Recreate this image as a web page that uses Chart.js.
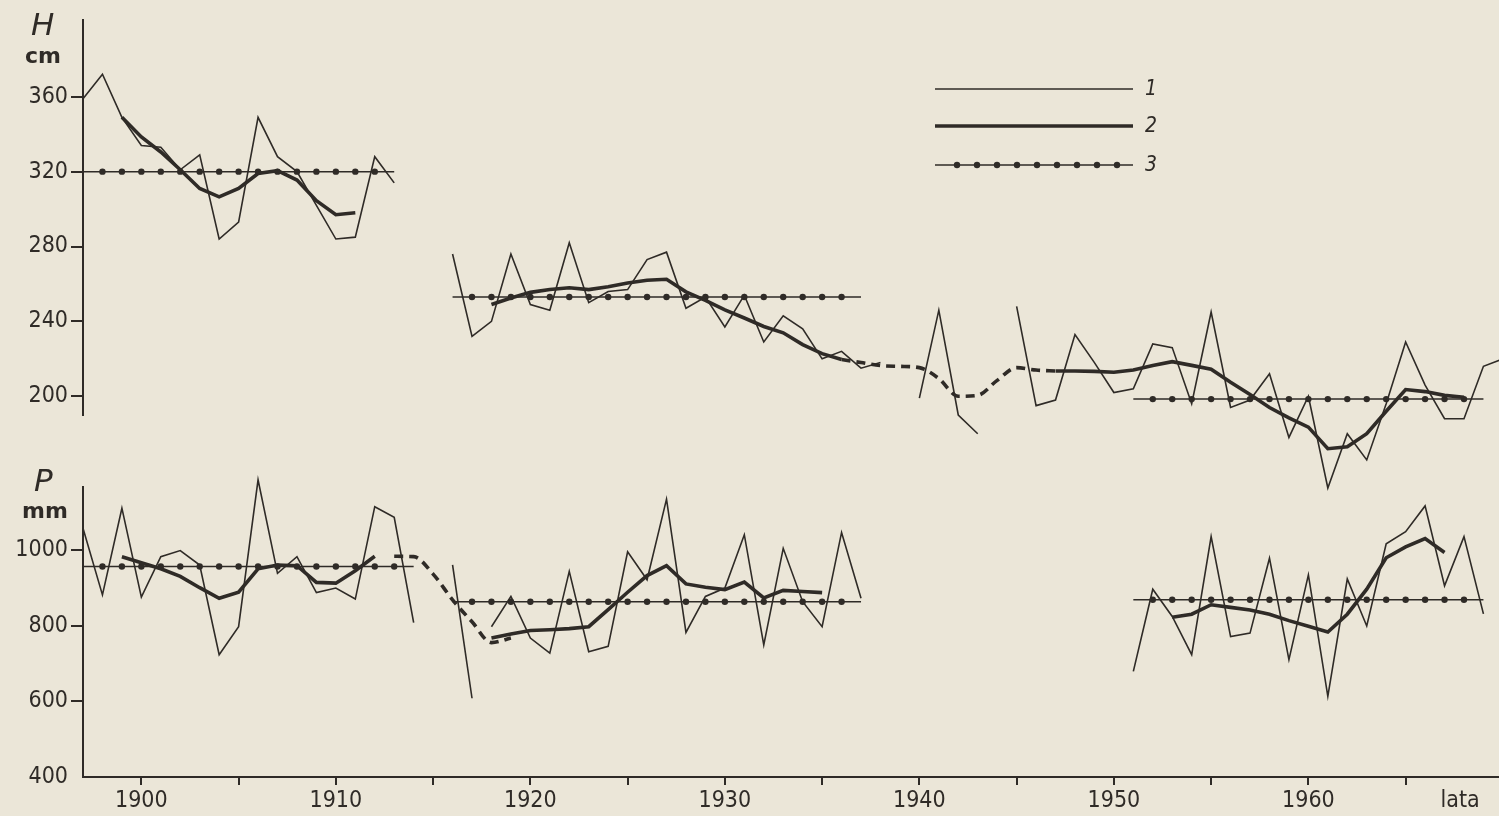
<!DOCTYPE html>
<html>
<head>
<meta charset="utf-8">
<script src="https://cdn.jsdelivr.net/npm/chart.js@4.4.1/dist/chart.umd.min.js"></script>
<style>
  html, body { margin: 0; padding: 0; background: #ebe6d8; }
  #wrap { width: 1499px; height: 816px; }
</style>
</head>
<body>
<div id="wrap"><canvas id="wykres"></canvas></div>
<script>
// lata 1897-1970
const years = [];
for (let r = 1897; r <= 1970; r++) years.push(r);

// H [cm] - stany wody
const hAnnual = [
  359, 372, 349,
  334, 333, 321, 329, 284, 293, 349, 328, 320, 302,
  284, 285, 328, 314, null, null, 276, 232, 240, 276,
  249, 246, 282, 250, 256, 257, 273, 277, 247, 253,
  237, 254, 229, 243, 236, 220, 224, 215, 218, null,
  199, 246, 190, 180, null, 248, 195, 198, 233, 218,
  202, 204, 228, 226, 196, 245, 194, 198, 212, 178,
  200, 151, 180, 166, 196, 229, 206, 188, 188, 216,
  220
];
const hSmooth = [
  null, null, 349,
  338.5, 330.5, 321, 311, 306.5, 311, 319, 320.5, 315.5, 304.5,
  297, 298, null, null, null, null, null, null, 249, 252.5,
  255.5, 257, 258, 257, 258.5, 260.5, 262, 262.5, 255.8, 251.2,
  246.2, 241.8, 237.3, 233.9, 227.6, 222.8, 219.6, null, null, null,
  null, null, null, null, null, null, null, 213.5, 213.5, 213.3,
  212.8, 214, 216.5, 218.5, 216.5, 214.5, 207.5, 201, 194, 188.5,
  183.5, 172, 173, 180, 192, 203.6, 202.5, 200.5, 199.5, null,
  null
];
// przerwa w obserwacjach (linia przerywana)
const hGap = [
  null, null, null,
  null, null, null, null, null, null, null, null, null, null,
  null, null, null, null, null, null, null, null, null, null,
  null, null, null, null, null, null, null, null, null, null,
  null, null, null, null, null, null, 219.6, 218, 216.4, 216,
  215.3, 209.5, 200, 200.5, 208.5, 215.3, 214, 213.5, null, null,
  null, null, null, null, null, null, null, null, null, null,
  null, null, null, null, null, null, null, null, null, null,
  null
];
const hMean = [
  320, 320, 320,
  320, 320, 320, 320, 320, 320, 320, 320, 320, 320,
  320, 320, 320, 320, null, null, 253, 253, 253, 253,
  253, 253, 253, 253, 253, 253, 253, 253, 253, 253,
  253, 253, 253, 253, 253, 253, 253, 253, null, null,
  null, null, null, null, null, null, null, null, null, null,
  null, 198.5, 198.5, 198.5, 198.5, 198.5, 198.5, 198.5, 198.5, 198.5,
  198.5, 198.5, 198.5, 198.5, 198.5, 198.5, 198.5, 198.5, 198.5, 198.5,
  null
];

// P [mm] - opady
const pAnnual = [
  1057, 881, 1110,
  875, 982, 998, 960, 723, 797, 1185, 938, 982, 887,
  899, 870, 1114, 1086, 808, null, null, null, 797, 877,
  767, 727, 943, 731, 745, 995, 921, 1134, 782, 877,
  899, 1040, 749, 1004, 863, 797, 1046, 872, null, null,
  null, null, null, null, null, null, null, null, null, null,
  null, 679, 896, 824, 723, 1035, 771, 780, 978, 710,
  934, 613, 923, 799, 1016, 1048, 1116, 905, 1035, 831,
  null
];
const pEdgeYears = [1916, 1917];
const pEdge = [960, 608];
const pSmooth = [
  null, null, 982,
  966, 950, 930, 900, 872, 888, 950, 960, 958, 914,
  912, 945, 983, null, null, null, null, null, 767, 778,
  787, 789, 792, 797, 842, 888, 932, 958, 910, 901,
  895, 915, 873, 893, 890, 887, null, null, null, null,
  null, null, null, null, null, null, null, null, null, null,
  null, null, null, 822, 830, 855, 848, 841, 830, 813,
  798, 783, 830, 896, 979, 1008, 1030, 993, null, null,
  null
];
const pGap = [
  null, null, null,
  null, null, null, null, null, null, null, null, null, null,
  null, null, null, 983, 982, 936, 868, 810, 755, 767,
  null, null, null, null, null, null, null, null, null, null,
  null, null, null, null, null, null, null, null, null, null,
  null, null, null, null, null, null, null, null, null, null,
  null, null, null, null, null, null, null, null, null, null,
  null, null, null, null, null, null, null, null, null, null,
  null
];
const pMean = [
  956, 956, 956,
  956, 956, 956, 956, 956, 956, 956, 956, 956, 956,
  956, 956, 956, 956, 956, null, 863, 863, 863, 863,
  863, 863, 863, 863, 863, 863, 863, 863, 863, 863,
  863, 863, 863, 863, 863, 863, 863, 863, null, null,
  null, null, null, null, null, null, null, null, null, null,
  null, 868, 868, 868, 868, 868, 868, 868, 868, 868,
  868, 868, 868, 868, 868, 868, 868, 868, 868, 868,
  null
];

const hTicks = [200, 240, 280, 320, 360];
const pTicks = [400, 600, 800, 1000];
const lataPos = 1967.8;
const xTicks = [1900, 1905, 1910, 1915, 1920, 1925, 1930, 1935, 1940, 1945, 1950, 1955, 1960, 1965, lataPos];

const ink = '#2f2b27';
const tickFont = { family: "'DejaVu Sans Condensed', 'Liberation Sans Narrow', sans-serif", size: 23 };

const pts = arr => years.map((r, i) => ({ x: r, y: arr[i] }));
// kropki tylko wewnatrz odcinka sredniej
const kropki = arr => c => {
  const i = c.dataIndex;
  return arr[i] != null && arr[i - 1] != null && arr[i + 1] != null ? 3.2 : 0;
};

const thin = (data, axis) => ({ data, yAxisID: axis, clip: false, borderColor: ink, borderWidth: 1.6, pointRadius: 0, tension: 0 });
const thick = (data, axis) => ({ data, yAxisID: axis, clip: false, borderColor: ink, borderWidth: 3.6, pointRadius: 0, tension: 0 });
const dashed = (data, axis) => ({ data, yAxisID: axis, clip: false, borderColor: ink, borderWidth: 3.6, borderDash: [9, 6], pointRadius: 0, cubicInterpolationMode: 'monotone' });
const mean = (arr, axis) => ({ data: pts(arr), yAxisID: axis, clip: false, borderColor: ink, borderWidth: 1.5, pointRadius: kropki(arr), pointBackgroundColor: ink, pointBorderWidth: 0 });

// opisy osi i legenda
const podpisy = {
  id: 'podpisy',
  afterDraw(chart) {
    const ctx = chart.ctx;
    const sH = chart.scales.yH, sP = chart.scales.yP;
    ctx.save();
    ctx.fillStyle = ink;
    ctx.strokeStyle = ink;
    ctx.textBaseline = 'alphabetic';
    ctx.font = 'italic 31px "DejaVu Sans"';
    ctx.fillText('H', 31, sH.top + 15);
    ctx.fillText('P', 34, sP.top + 4);
    ctx.font = '600 22px "DejaVu Sans"';
    ctx.fillText('cm', 25, sH.top + 43);
    ctx.fillText('mm', 22, sP.top + 31);

    const x0 = 935, x1 = 1133, rows = [89, 126, 165];
    ctx.font = 'italic 21px "DejaVu Sans Condensed", "DejaVu Sans"';
    ctx.textBaseline = 'middle';
    [1.6, 3.6, 1.5].forEach((w, k) => {
      ctx.lineWidth = w;
      ctx.beginPath();
      ctx.moveTo(x0, rows[k]);
      ctx.lineTo(x1, rows[k]);
      ctx.stroke();
      ctx.fillText(String(k + 1), 1145, rows[k] + 1);
    });
    for (let d = 957; d < x1 - 5; d += 20) {
      ctx.beginPath();
      ctx.arc(d, rows[2], 3.2, 0, Math.PI * 2);
      ctx.fill();
    }
    ctx.restore();
  }
};

const yCommon = {
  type: 'linear',
  position: 'left',
  stack: 'lewa',
  afterFit: s => { s.width = 83; },
  grid: { drawOnChartArea: false, color: c => (c.tick && c.tick.value === 400 ? 'rgba(0,0,0,0)' : ink), lineWidth: 2, tickLength: 12 },
  border: { color: ink, width: 2 },
  ticks: { color: ink, font: tickFont, padding: 3, callback: v => String(v) }
};

new Chart(document.getElementById('wykres'), {
  type: 'line',
  data: {
    datasets: [
      thin(pts(hAnnual), 'yH'),
      thick(pts(hSmooth), 'yH'),
      dashed(pts(hGap), 'yH'),
      mean(hMean, 'yH'),
      thin(pts(pAnnual), 'yP'),
      thin(pEdgeYears.map((r, i) => ({ x: r, y: pEdge[i] })), 'yP'),
      thick(pts(pSmooth), 'yP'),
      dashed(pts(pGap), 'yP'),
      mean(pMean, 'yP')
    ]
  },
  options: {
    responsive: true,
    maintainAspectRatio: false,
    animation: false,
    layout: { padding: { top: 20, left: 0, right: 0, bottom: 0 } },
    plugins: { legend: { display: false }, tooltip: { enabled: false } },
    scales: {
      x: {
        type: 'linear',
        min: 1897,
        max: 1969.8,
        afterBuildTicks: s => { s.ticks = xTicks.map(v => ({ value: v })); },
        afterFit: s => { s.height = 39; },
        grid: { drawOnChartArea: false, tickLength: 8, lineWidth: 2, color: c => (c.tick && c.tick.value === lataPos ? 'rgba(0,0,0,0)' : ink) },
        border: { color: ink, width: 2 },
        ticks: {
          autoSkip: false, maxRotation: 0, color: ink, font: tickFont, padding: 2,
          callback: v => (v === lataPos ? 'lata' : (v % 10 === 0 ? String(v) : ''))
        }
      },
      yH: Object.assign({}, yCommon, {
        weight: 3, stackWeight: 395, min: 190, max: 401,
        afterBuildTicks: s => { s.ticks = hTicks.map(v => ({ value: v })); }
      }),
      yGap: {
        type: 'linear', position: 'left', stack: 'lewa', weight: 2, stackWeight: 72,
        min: 0, max: 1,
        grid: { display: false }, border: { display: false }, ticks: { display: false }
      },
      yP: Object.assign({}, yCommon, {
        weight: 1, stackWeight: 290, min: 400, max: 1166,
        afterBuildTicks: s => { s.ticks = pTicks.map(v => ({ value: v })); }
      })
    }
  },
  plugins: [podpisy]
});
</script>
</body>
</html>
